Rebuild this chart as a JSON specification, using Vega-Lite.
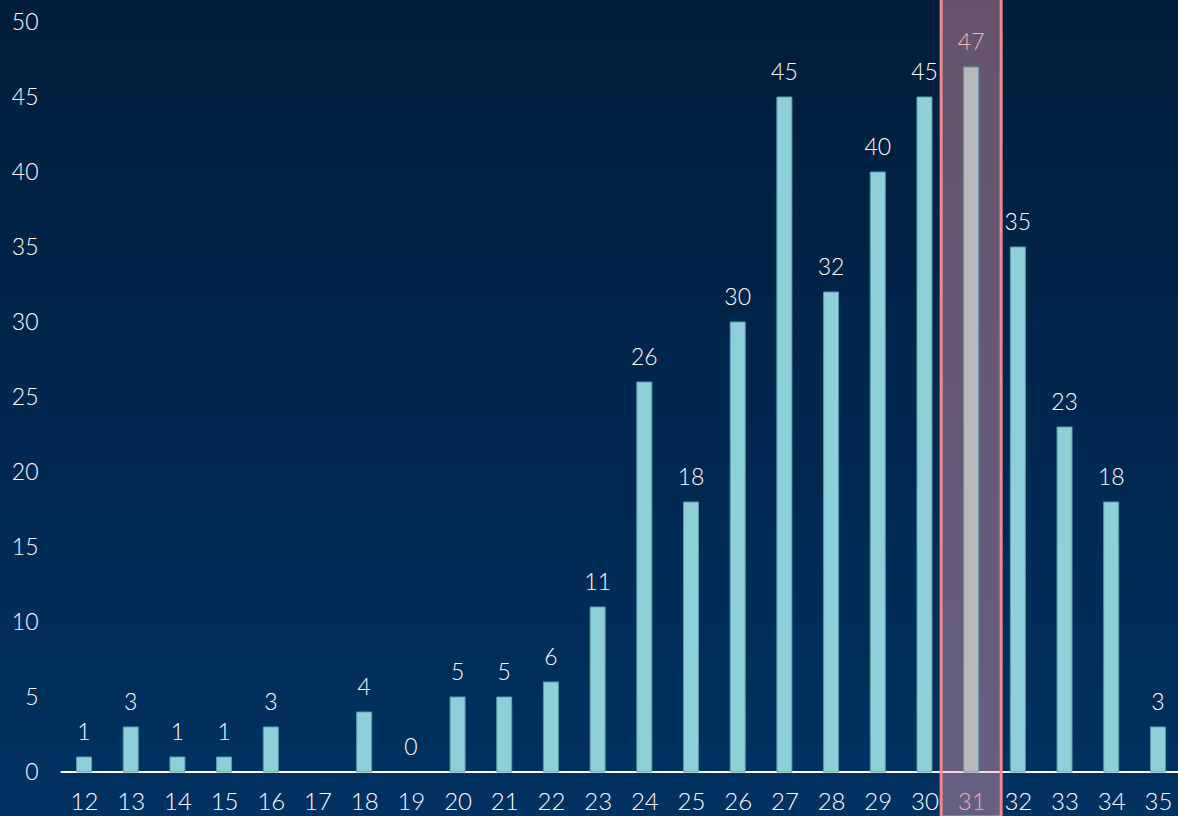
{
  "$schema": "https://vega.github.io/schema/vega-lite/v6.json",
  "width": 1178,
  "height": 816,
  "padding": 0,
  "autosize": {"type": "none"},
  "background": "#00284f",
  "config": {
    "view": {
      "stroke": null,
      "fill": {
        "gradient": "linear",
        "x1": 0, "y1": 0, "x2": 0, "y2": 1,
        "stops": [
          {"offset": 0, "color": "#001d3b"},
          {"offset": 1, "color": "#003262"}
        ]
      }
    },
    "font": "Lato",
    "text": {"font": "Lato"}
  },
  "data": {
    "values": [
      {"week": 12, "count": 1},
      {"week": 13, "count": 3},
      {"week": 14, "count": 1},
      {"week": 15, "count": 1},
      {"week": 16, "count": 3},
      {"week": 18, "count": 4},
      {"week": 19, "count": 0},
      {"week": 20, "count": 5},
      {"week": 21, "count": 5},
      {"week": 22, "count": 6},
      {"week": 23, "count": 11},
      {"week": 24, "count": 26},
      {"week": 25, "count": 18},
      {"week": 26, "count": 30},
      {"week": 27, "count": 45},
      {"week": 28, "count": 32},
      {"week": 29, "count": 40},
      {"week": 30, "count": 45},
      {"week": 31, "count": 47},
      {"week": 32, "count": 35},
      {"week": 33, "count": 23},
      {"week": 34, "count": 18},
      {"week": 35, "count": 3}
    ]
  },
  "encoding": {
    "x": {
      "field": "week",
      "type": "quantitative",
      "scale": {"domain": [10.2, 35.43], "nice": false, "zero": false, "padding": 0},
      "axis": {
        "title": null,
        "orient": "bottom",
        "offset": -44,
        "values": [12, 13, 14, 15, 16, 17, 18, 19, 20, 21, 22, 23, 24, 25, 26, 27, 28, 29, 30, 31, 32, 33, 34, 35],
        "format": "d",
        "domain": false,
        "ticks": false,
        "grid": false,
        "labelFont": "Lato",
        "labelFontSize": 24,
        "labelFontWeight": 300,
        "labelPadding": 18,
        "labelColor": {
          "condition": {"test": "datum.value == 31", "value": "#f3b2b2"},
          "value": "#ffffff"
        }
      }
    },
    "y": {
      "field": "count",
      "type": "quantitative",
      "scale": {"domain": [-2.933, 51.467], "nice": false, "zero": false, "padding": 0},
      "axis": {
        "title": null,
        "offset": -40,
        "values": [0, 5, 10, 15, 20, 25, 30, 35, 40, 45, 50],
        "domain": false,
        "ticks": false,
        "grid": false,
        "labelFont": "Lato",
        "labelFontSize": 23,
        "labelFontWeight": 300,
        "labelPadding": 2,
        "labelColor": "#ffffff"
      }
    }
  },
  "layer": [
    {
      "data": {"values": [{"from": 11.5, "to": 36, "level": 0}]},
      "mark": {"type": "rule", "color": "#ffffff", "strokeWidth": 2},
      "encoding": {
        "x": {"field": "from", "type": "quantitative"},
        "x2": {"field": "to"},
        "y": {"field": "level", "type": "quantitative"}
      }
    },
    {
      "data": {"values": [{"week": 31, "top": 52, "bottom": -3}]},
      "mark": {
        "type": "bar",
        "orient": "vertical",
        "size": 60,
        "fill": "#f0a0b0",
        "fillOpacity": 0.42,
        "stroke": "#f08a8a",
        "strokeWidth": 3
      },
      "encoding": {
        "x": {"field": "week", "type": "quantitative"},
        "y": {"field": "top", "type": "quantitative"},
        "y2": {"field": "bottom"}
      }
    },
    {
      "transform": [{"filter": "datum.count > 0"}],
      "mark": {
        "type": "bar",
        "orient": "vertical",
        "size": 15,
        "stroke": "#5b9cab",
        "strokeWidth": 1
      },
      "encoding": {
        "y2": {"datum": 0},
        "color": {
          "condition": {"test": "datum.week == 31", "value": "#b9b9bd"},
          "value": "#8ed0d8"
        }
      }
    },
    {
      "mark": {
        "type": "text",
        "baseline": "alphabetic",
        "dy": -17,
        "fontSize": 23,
        "fontWeight": 300,
        "font": "Lato"
      },
      "encoding": {
        "text": {"field": "count", "type": "quantitative"},
        "color": {
          "condition": {"test": "datum.week == 31", "value": "#f3b2b2"},
          "value": "#ffffff"
        }
      }
    }
  ]
}
